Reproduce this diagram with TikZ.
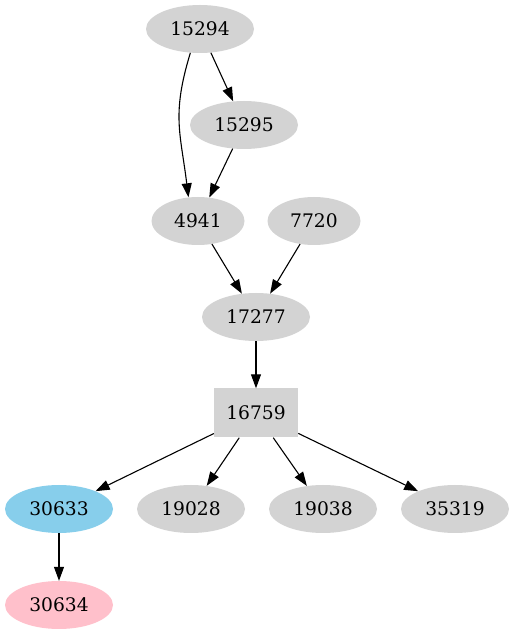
\documentclass[tikz,border=0pt]{standalone}
\usepackage{fontspec}
\setmainfont{DejaVu Serif}
\usetikzlibrary{shapes.geometric,arrows.meta}
\definecolor{nodegray}{HTML}{D3D3D3}
\definecolor{nodeblue}{HTML}{87CEEB}
\definecolor{nodepink}{HTML}{FFC0CB}
\tikzset{
  nd/.style={ellipse, fill=nodegray, draw=none, inner sep=0pt, minimum height=48pt, minimum width=108pt, font=\fontsize{18.67}{22}\selectfont},
  ndsm/.style={nd, minimum width=93pt},
  boxnd/.style={rectangle, fill=nodegray, draw=none, inner sep=0pt, minimum height=49pt, minimum width=84pt, font=\fontsize{18.67}{22}\selectfont},
  edge/.style={draw=black, line width=1.1pt, -{Triangle[length=14pt,width=10pt]}}
}
\begin{document}
\begin{tikzpicture}[x=1pt,y=1pt]
\useasboundingbox (0,0) rectangle (514,635);
\node[nd] (n15294) at (200,606) {15294};
\node[nd] (n15295) at (244,510) {15295};
\node[ndsm] (n4941) at (198,414) {4941};
\node[ndsm] (n7720) at (314,414) {7720};
\node[nd] (n17277) at (256,318) {17277};
\node[boxnd] (n16759) at (256,222) {16759};
\node[nd, fill=nodeblue] (n30633) at (59,126) {30633};
\node[nd] (n19028) at (191,126) {19028};
\node[nd] (n19038) at (323,126) {19038};
\node[nd] (n35319) at (455,126) {35319};
\node[nd, fill=nodepink] (n30634) at (59,30) {30634};
\draw[edge] (n15294) -- (n15295);
\draw[edge] (n15294.-112) .. controls +(-107:65) and +(97:65) .. (n4941.112);
\draw[edge] (n15295) -- (n4941);
\draw[edge] (n4941) -- (n17277);
\draw[edge] (n7720) -- (n17277);
\draw[edge] (n17277) -- (n16759);
\draw[edge] (n16759) -- (n30633);
\draw[edge] (n16759) -- (n19028);
\draw[edge] (n16759) -- (n19038);
\draw[edge] (n16759) -- (n35319);
\draw[edge] (n30633) -- (n30634);
\end{tikzpicture}
\end{document}
